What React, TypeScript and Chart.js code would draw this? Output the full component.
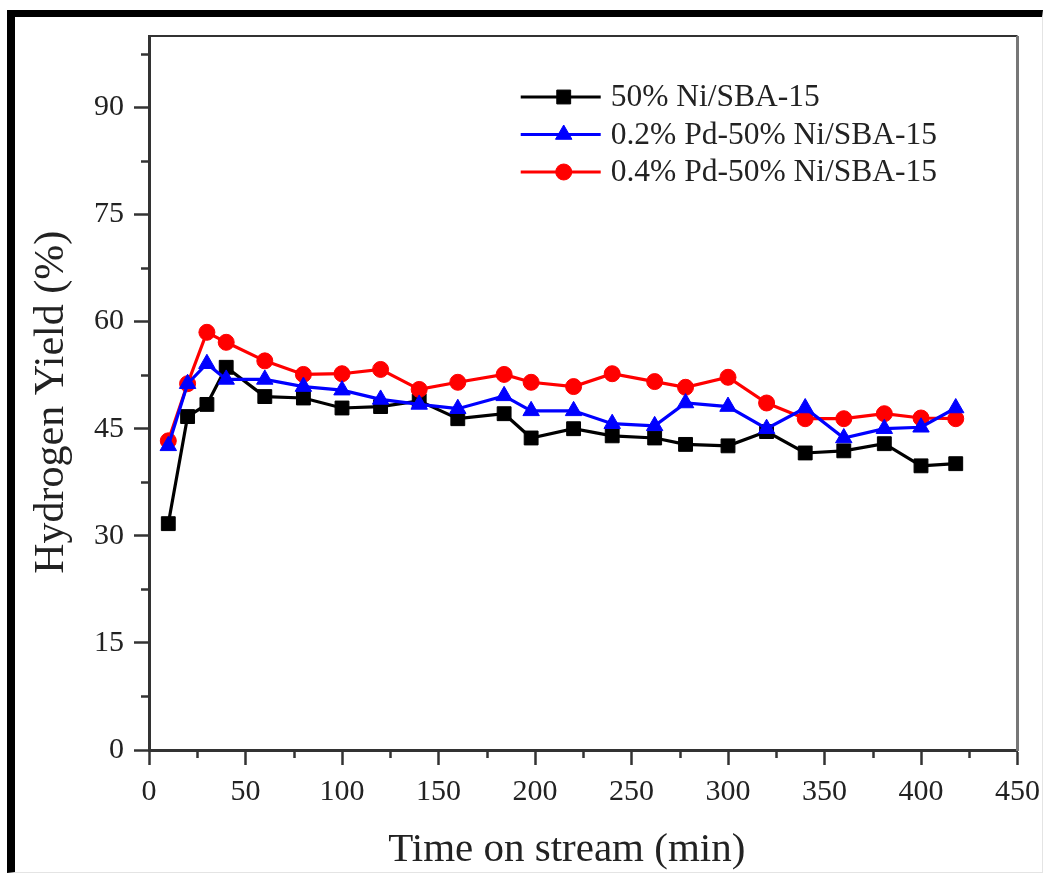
import React, { useEffect, useRef } from 'react';
import { Chart, registerables } from 'chart.js';
import { drawPoint } from 'chart.js/helpers';

Chart.register(...registerables);

// Time on stream (min)
const timeMin = [10, 20, 30, 40, 60, 80, 100, 120, 140, 160, 184, 198, 220, 240, 262, 278, 300, 320, 340, 360, 381, 400, 418];

// Hydrogen yield (%) per catalyst
const ni50 = [31.7, 46.7, 48.4, 53.6, 49.5, 49.3, 47.9, 48.1, 48.9, 46.4, 47.1, 43.7, 45.0, 44.0, 43.7, 42.8, 42.6, 44.6, 41.6, 41.9, 42.9, 39.8, 40.1];
const pd02 = [42.6, 51.3, 54.1, 51.9, 51.9, 50.9, 50.4, 49.1, 48.4, 47.8, 49.6, 47.5, 47.5, 45.7, 45.4, 48.6, 48.1, 45.0, 47.9, 43.7, 45.0, 45.2, 47.9];
const pd04 = [43.3, 51.3, 58.5, 57.1, 54.5, 52.6, 52.7, 53.3, 50.5, 51.5, 52.6, 51.5, 50.9, 52.7, 51.6, 50.8, 52.2, 48.6, 46.4, 46.4, 47.1, 46.5, 46.4];

const seriesLabels = ['50% Ni/SBA-15', '0.2% Pd-50% Ni/SBA-15', '0.4% Pd-50% Ni/SBA-15'];

const xAxisTitle = 'Time on stream (min)';
const yAxisTitle = 'Hydrogen Yield (%)';

const X_MAJOR = 50;
const Y_MAJOR = 15;

const FONT = '"Liberation Serif", "Times New Roman", serif';
const AXIS_COLOR = '#333';
const TEXT_COLOR = '#222';

const isMultiple = (v: number, step: number) => Math.abs(v / step - Math.round(v / step)) < 1e-6;

const toPoints = (ys: number[]) => timeMin.map((x, i) => ({ x, y: ys[i] }));

// Minor ticks, the top/right frame of the plot, axis titles and the in-plot legend
const decorPlugin = {
  id: 'decor',
  afterDraw(chart: any) {
    const { ctx, chartArea: ca } = chart;
    const xs = chart.scales.x;
    const ys = chart.scales.y;
    ctx.save();

    ctx.strokeStyle = AXIS_COLOR;
    ctx.lineWidth = 2.5;
    ys.ticks.forEach((t: any) => {
      if (isMultiple(t.value, Y_MAJOR)) return;
      const py = Math.round(ys.getPixelForValue(t.value)) + 0.5;
      ctx.beginPath();
      ctx.moveTo(ca.left - 8, py);
      ctx.lineTo(ca.left, py);
      ctx.stroke();
    });
    xs.ticks.forEach((t: any) => {
      if (isMultiple(t.value, X_MAJOR)) return;
      const px = Math.round(xs.getPixelForValue(t.value)) + 0.5;
      ctx.beginPath();
      ctx.moveTo(px, ca.bottom);
      ctx.lineTo(px, ca.bottom + 8);
      ctx.stroke();
    });

    // top and right frame lines
    ctx.strokeStyle = '#333';
    ctx.lineWidth = 2;
    ctx.beginPath();
    ctx.moveTo(ca.left, ca.top);
    ctx.lineTo(ca.right, ca.top);
    ctx.stroke();
    ctx.strokeStyle = '#777';
    ctx.lineWidth = 3;
    ctx.beginPath();
    ctx.moveTo(ca.right, ca.top);
    ctx.lineTo(ca.right, ca.bottom + 1);
    ctx.stroke();

    // axis titles
    ctx.fillStyle = TEXT_COLOR;
    ctx.textAlign = 'center';
    ctx.textBaseline = 'middle';
    ctx.font = `41px ${FONT}`;
    ctx.fillText(xAxisTitle, ca.left + (ca.right - ca.left) * 0.481, 850);
    ctx.save();
    ctx.translate(52, ca.top + (ca.bottom - ca.top) * 0.513);
    ctx.rotate(-Math.PI / 2);
    ctx.font = `42px ${FONT}`;
    ctx.fillText(yAxisTitle, 0, 0);
    ctx.restore();

    // legend: line with marker, then label
    const lx = ca.left + (ca.right - ca.left) * 0.428;
    const ly = ca.top + 61;
    const rowGap = 37.5;
    const lineLen = 80;
    ctx.font = `31.5px ${FONT}`;
    ctx.textBaseline = 'middle';
    ctx.textAlign = 'left';
    seriesLabels.forEach((label, i) => {
      const ds = chart.data.datasets.find((d: any) => d.label === label);
      const y = ly + i * rowGap;
      ctx.strokeStyle = ds.borderColor;
      ctx.lineWidth = ds.borderWidth;
      ctx.beginPath();
      ctx.moveTo(lx, y);
      ctx.lineTo(lx + lineLen, y);
      ctx.stroke();
      ctx.fillStyle = ds.pointBackgroundColor;
      ctx.strokeStyle = ds.pointBorderColor;
      ctx.lineWidth = ds.pointBorderWidth;
      drawPoint(ctx, { pointStyle: ds.pointStyle, radius: ds.pointRadius, rotation: 0, borderWidth: ds.pointBorderWidth }, lx + lineLen / 2 + 3, y);
      ctx.fillStyle = TEXT_COLOR;
      ctx.fillText(label, lx + lineLen + 10, y + 1);
    });

    ctx.restore();
  },
};

export default function App() {
  const canvasRef = useRef<HTMLCanvasElement | null>(null);

  useEffect(() => {
    if (!canvasRef.current) return;
    const makeSet = (label: string, values: number[], color: string, style: string, radius: number, order: number) => ({
      label,
      data: toPoints(values),
      borderColor: color,
      backgroundColor: color,
      borderWidth: 3.2,
      pointStyle: style,
      pointRadius: radius,
      pointHoverRadius: radius,
      pointBackgroundColor: color,
      pointBorderColor: color,
      pointBorderWidth: 1,
      tension: 0,
      order,
    });

    const chart = new Chart(canvasRef.current, {
      type: 'line',
      data: {
        datasets: [
          makeSet(seriesLabels[0], ni50, '#000000', 'rect', 9.8, 3),
          makeSet(seriesLabels[1], pd02, '#0000ff', 'triangle', 9.5, 1),
          makeSet(seriesLabels[2], pd04, '#ff0000', 'circle', 8, 2),
        ],
      },
      options: {
        responsive: false,
        animation: false,
        events: [],
        layout: { padding: { left: 0, top: 36, right: 29, bottom: 0 } },
        plugins: {
          legend: { display: false },
          tooltip: { enabled: false },
        },
        scales: {
          x: {
            type: 'linear',
            min: 0,
            max: 450,
            ticks: {
              stepSize: 25,
              autoSkip: false,
              maxRotation: 0,
              padding: 9,
              color: TEXT_COLOR,
              font: { family: FONT, size: 30 },
              callback: (v: any) => (isMultiple(Number(v), X_MAJOR) ? String(v) : ''),
            },
            grid: {
              drawOnChartArea: false,
              drawTicks: true,
              tickLength: 15,
              tickWidth: 2.5,
              tickColor: (c: any) => (c.tick && isMultiple(c.tick.value, X_MAJOR) ? AXIS_COLOR : 'rgba(0,0,0,0)'),
            },
            border: { display: true, color: AXIS_COLOR, width: 3 },
            title: { display: false },
            afterFit: (s: any) => {
              s.height = 124;
            },
          },
          y: {
            type: 'linear',
            min: 0,
            max: 100,
            ticks: {
              stepSize: 7.5,
              includeBounds: false,
              autoSkip: false,
              padding: 10,
              color: TEXT_COLOR,
              font: { family: FONT, size: 30 },
              callback: (v: any) => (isMultiple(Number(v), Y_MAJOR) ? String(v) : ''),
            },
            grid: {
              drawOnChartArea: false,
              drawTicks: true,
              tickLength: 15,
              tickWidth: 2.5,
              tickColor: (c: any) => (c.tick && isMultiple(c.tick.value, Y_MAJOR) ? AXIS_COLOR : 'rgba(0,0,0,0)'),
            },
            border: { display: true, color: AXIS_COLOR, width: 3 },
            title: { display: false },
            afterFit: (s: any) => {
              s.width = 149;
            },
          },
        },
      },
      plugins: [decorPlugin],
    } as any);

    return () => chart.destroy();
  }, []);

  return (
    <div style={{ position: 'fixed', left: 0, top: 0, width: 1049, height: 874, background: '#fff' }}>
      <div
        style={{
          position: 'absolute',
          left: 7,
          top: 10,
          width: 1042 - 7 - 8,
          height: 872 - 10 - 7,
          borderTop: '7px solid #000',
          borderLeft: '8px solid #000',
          borderRight: '1px solid #e4e4e4',
          borderBottom: '1px solid #e4e4e4',
        }}
      />
      <canvas ref={canvasRef} width={1049} height={874} style={{ position: 'absolute', left: 0, top: 0, width: 1049, height: 874 }} />
    </div>
  );
}
